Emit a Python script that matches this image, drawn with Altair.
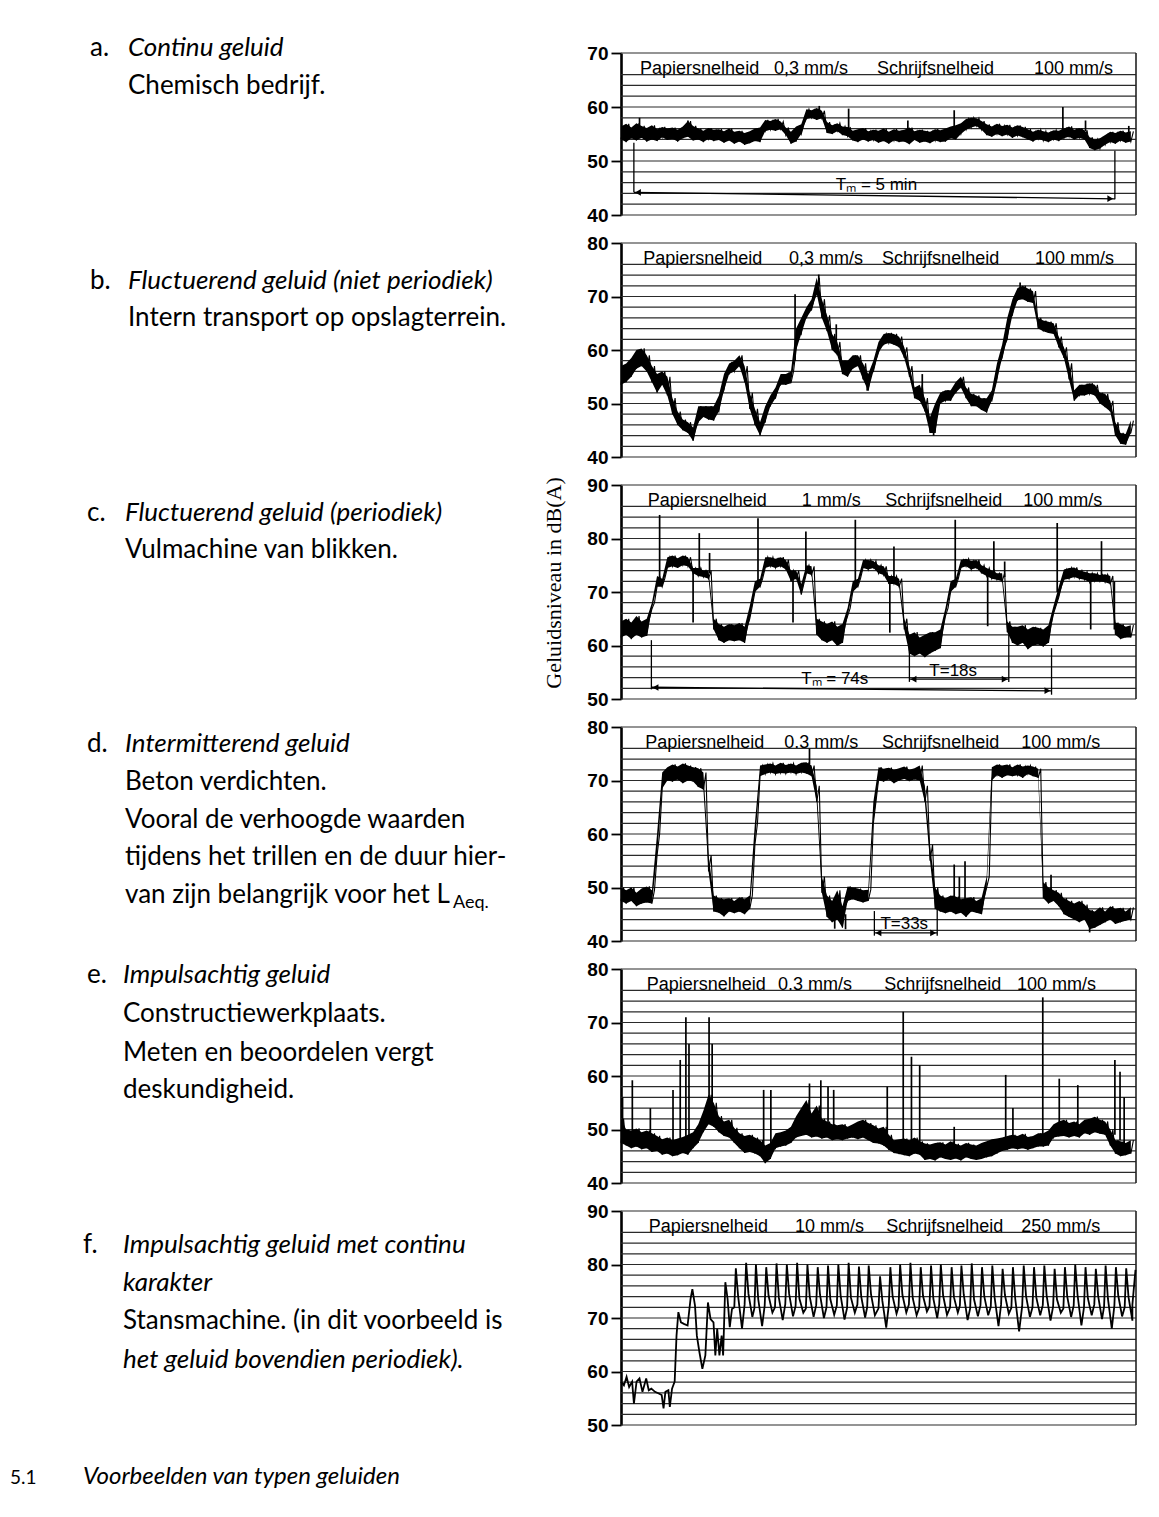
import altair as alt
import pandas as pd

# ---------------- data ----------------
X = list(range(100))

# a. Continu geluid
a_lo = [54.0,53.5,54.2,53.8,54.3,53.6,54.0,53.7,54.4,53.9,
        54.1,53.6,54.2,54.5,53.8,54.0,53.5,54.1,53.7,53.9,
        53.4,53.8,53.2,53.6,53.0,53.3,53.7,53.5,55.5,55.8,
        55.6,55.9,54.8,53.2,53.6,55.0,57.8,58.0,57.6,57.9,
        55.2,55.0,55.5,54.8,54.6,53.8,53.5,54.0,53.6,53.9,
        53.4,53.7,53.2,53.8,53.5,53.6,53.1,53.9,53.4,53.6,
        53.3,53.8,53.5,53.6,54.2,54.0,55.0,55.8,56.2,56.5,
        55.8,54.8,54.5,55.0,54.6,54.9,54.3,54.7,54.4,54.0,
        53.6,54.1,53.8,53.5,54.0,53.7,54.2,54.5,54.0,54.3,
        54.0,52.4,52.0,52.3,53.0,53.5,53.2,53.8,53.4,53.6]
a_hi = [56.4,56.9,56.2,57.0,56.5,56.1,56.6,55.9,56.3,56.0,
        56.2,55.8,56.4,57.4,56.5,56.0,55.6,56.1,55.8,55.9,
        55.5,56.0,55.4,55.6,55.2,55.5,56.0,56.2,57.6,57.4,
        57.8,57.3,56.2,55.4,56.4,56.8,59.6,59.4,59.8,59.3,
        57.2,56.6,57.0,56.4,56.3,55.6,55.9,56.1,55.5,55.8,
        55.6,56.0,55.4,55.9,55.6,55.8,56.2,55.5,55.8,55.6,
        55.4,55.9,55.7,56.0,56.4,56.6,57.0,57.8,58.0,57.9,
        57.4,56.8,56.4,56.9,56.5,56.7,56.2,56.6,56.3,55.9,
        55.4,55.8,55.5,55.3,55.7,55.6,56.0,56.4,55.8,56.1,
        55.7,54.4,54.0,54.2,54.8,55.4,55.2,55.6,55.3,55.5]
a_spk_x = [3.6, 13.0, 38.5, 44.2, 55.7, 64.7, 85.8, 90.2, 98.6]
a_spk_base = [56.0, 56.5, 59.0, 56.0, 55.5, 55.5, 55.5, 55.5, 55.0]
a_spk_peak = [58.0, 57.5, 60.2, 59.7, 57.5, 59.4, 60.0, 57.5, 56.5]

# b. Fluctuerend geluid (niet periodiek)
b_lo = [53.5,54,55,56.5,57,56,54,52,53.5,51.5,
        48,46,45,44.5,43,46.5,47.5,47,46.8,48.5,
        52.5,55.5,56,57,54,49,46,44,46.5,49.5,
        51,53.5,53.5,53.8,60,63,66,67.5,70.5,66,
        63.5,60,59,55.5,55,56.5,57,54.5,52.4,56,
        59.5,61,61.3,61,60.5,58.5,55,51,50.5,48.5,
        44.5,44.5,50,50.5,50.5,52,53,51,49.5,49.5,
        48.8,48.3,50.5,54.5,58.5,62,66.5,69.3,69.5,69,
        68.8,64,63.5,63.2,63,60.5,58.5,54.5,50.5,51.5,
        51.5,51.8,51.5,50,49.3,48.5,44,42.5,42.3,44.5]
b_hi = [57,57.5,58.5,60,60.3,59,57,55.5,56,55,
        51,48.5,47,46.5,45.5,49.5,49.5,49.5,49.5,51.5,
        55.5,57.5,58,59,57,52,49,46.5,49.5,51.5,
        53,55.5,55.5,56,64,66,68,69.5,73.5,69.5,
        66.5,63,61.5,58,58,59,59,57.5,55.5,58,
        61.5,63,63.2,63,62.5,60.5,57,53,53.5,51,
        47.5,50,52,52.5,52.5,54,55,53,51.8,51.5,
        51,51,52.5,57.5,61,66,69.5,71.6,72,71.5,
        71,66,65.5,65.3,65,62.5,60.5,57.5,52.5,53.5,
        53.5,53.8,53.5,52,51.8,50.5,46.5,44.5,44.3,46.8]
b_spk_x = [33.8, 38.4, 41.8, 47.8, 58.5, 60.7, 77.5]
b_spk_base = [58.0, 72.0, 61.0, 54.0, 52.0, 46.0, 70.5]
b_spk_peak = [70.4, 74.1, 64.8, 52.4, 55.5, 44.0, 72.6]

# c. Fluctuerend geluid (periodiek)
c_lo = [61.5,62,61.2,62,61.5,61.8,66.8,71,71,74.5,
        74.8,74.5,75,74.8,73.5,73,72.8,72.5,63,61,
        60.5,61,60.8,61,60.5,65,70,71,74.5,74.8,
        74.5,74.8,74.2,72,72.5,69.5,73.5,73.2,62,61,
        60.5,61,59.9,60.5,65.5,70,71,74.5,74.2,74.5,
        73.5,73.2,71.5,71.5,71,63,58.5,58,58.5,57.8,
        58.5,59,59.5,65.5,70,71,74.5,74.8,74.2,74.5,
        73.5,73,72.5,72.3,72,62.5,60.5,60,60.5,59.3,
        60,60.2,59.8,60.5,66,69,72.3,72.5,72.8,72.5,
        72.3,71.8,72,72,71.8,71.5,62,61.2,61.5,61.5]
c_hi = [64.5,65,64.3,65.5,64.5,65,68,73,72.5,76.5,
        76.8,76.3,76.8,76.5,74.5,74.5,74,74,65,64,
        63.5,64,63.8,64.2,63.5,67.4,72,72.5,76.5,76.5,
        76.2,76.5,76,74,74,71.5,75,74.8,65,64.5,
        64,64.5,63.5,64,67,72,72.5,76,76,75.8,
        75,74.8,73,73,72.5,65,62,62.5,61.5,62,
        62.5,62.5,63,67,72,72.5,76,76.2,75.8,76,
        75,74.5,74,73.5,73.5,64.5,63.5,63.5,63.8,63,
        63.5,63.3,63,63.8,67.5,71,74.2,74.5,74.6,74,
        73.8,73.5,73.5,73.2,73.3,73,64.3,64,63.5,63.8]
c_spk_x = [7.5, 14.0, 15.2, 17.2, 26.6, 33.4, 35.9, 45.5, 52.2, 53.0,
           64.9, 71.2, 72.4, 74.5, 84.7, 91.2, 93.3, 95.8]
c_spk_base = [72.0, 74.0, 74.0, 73.5, 71.5, 73.0, 73.5, 71.5, 72.3, 72.3,
              71.5, 74.0, 73.0, 72.8, 70.0, 73.0, 72.5, 72.0]
c_spk_peak = [84.4, 64.3, 81.0, 77.3, 83.8, 64.3, 81.3, 83.5, 62.4, 78.5,
              83.5, 63.6, 79.5, 75.7, 82.9, 63.0, 79.5, 63.0]

# d. Intermitterend geluid
d_lo = [47.5,47,47.5,46.5,47,47.2,47,56,68.5,70,
        69.8,70.2,69.5,70,69.8,68.8,68.3,53,45.5,45.3,
        44.6,45.5,45.2,45.5,45,46,58,70.8,71.2,71.5,
        71.2,71.4,71.3,71.5,71.2,71.5,71.3,70.8,66,49,
        44.5,43.5,44,42.5,47.5,47.8,47.5,47.2,47.5,62,
        70,69.8,70.2,69.5,70,70.3,69.9,70.2,70,66,
        55,46,45.5,45.2,45.5,45,45.3,44.5,45.5,45.3,
        45,50,70,71,70.5,71,70.8,71,70.5,71.2,
        70.8,70.5,48,47,47.5,46.5,45,44.5,44,43.5,
        44,42.2,42.5,43,43.5,44,43.2,43.5,43.8,44]
d_hi = [50,49.5,50,49,49.8,50.2,49.5,60,71.5,72.5,
        73,72.6,73.2,72.8,72.5,72.3,71.5,56,48.5,48,
        47.8,48,47.5,48.2,47.8,48.5,62,72.8,73,73.2,
        72.8,73.3,72.9,73.2,72.8,73.3,73.4,72.8,69,52,
        48.5,47.5,49.5,46.5,50.2,50,49.8,49.5,49.6,66,
        72.5,72.2,72.4,72,72.3,72.6,72,72.3,72.8,69,
        58,50,48.5,48,48.5,48.3,47.8,48,48.2,47.5,
        48,52,72.5,73,72.8,73,72.5,73,72.6,72.8,
        72.6,72.2,51,50,49.5,49,48,47.5,47,47.5,
        46.8,45.8,45.5,46.3,45.5,46.5,46,46.2,45.5,46.3]
d_spk_x = [36.6, 41.5, 43.6, 64.7, 65.7, 66.8, 83.5, 91.0]
d_spk_base = [73.0, 45.0, 45.0, 47.0, 47.0, 47.0, 49.5, 44.0]
d_spk_peak = [76.0, 42.3, 42.2, 54.3, 52.0, 54.9, 52.4, 41.6]

# e. Impulsachtig geluid
e_lo = [47.5,47,46.5,46.8,46.3,46.5,45.8,46,45.3,45.5,
        45,45.2,45.6,45.3,46.5,47.5,49.5,51,50.5,49.5,
        48.8,48.5,47.5,46.5,45.6,45.8,45.5,45,43.7,44.5,
        46.5,46.8,47,47.5,48.5,48.8,49,48.5,48.7,48.3,
        48.5,48,48.2,48,48.3,48.5,48.2,48.5,48,47.5,
        47.4,47,46.2,45.6,45.4,45.2,45,45.5,45.3,44.3,
        44.5,44.2,44.8,44.5,44.3,44.6,44.2,44.8,44.5,44.3,
        44.5,44.8,45,45.5,46,46.2,46.5,46.3,46.5,46.2,
        46.5,46.8,46.8,47,48.5,48.7,48.8,48.5,48.8,48.5,
        49.3,49,49.5,49.2,49,47,45.5,45,45.2,45.5]
e_hi = [52,50,49.8,50.2,49.5,49.8,49.3,48.8,48.2,48.5,
        48,48.3,48.6,49,49.5,51,53.5,56.5,55,52.5,
        51.5,51.8,50.3,49.3,48.8,49,48.5,48,47,47.5,
        49.3,49.5,49.8,50.5,52.5,54,55.5,53,54.5,52,
        51.5,51,50.8,51,50.5,51,51.5,51.8,51.2,50.8,
        50.2,50.5,49,48,48.2,48.3,48,48.5,47.8,47.4,
        47.2,47.5,47.6,47.2,47.8,47.3,47,47.5,47.2,47,
        47.5,47.8,48.2,48.3,48.5,48.8,49,48.8,49.2,48.6,
        48.8,49.3,49.3,49.8,51,51.5,51.8,51.2,51.5,51,
        51.8,52,52.4,51.8,51.5,50,48,47.8,47.5,48]
e_spk_x = [0.3, 2.2, 5.7, 10.1, 11.5, 12.6, 13.2, 17.1, 17.7, 27.7,
           29.1, 36.6, 38.8, 40.2, 41.3, 51.7, 54.8, 56.4, 58.0, 64.7,
           74.7, 76.1, 81.9, 85.1, 88.7, 95.9, 96.9, 97.7]
e_spk_base = [49, 49, 48, 47, 47, 47, 47, 54, 54, 46,
              46, 52, 51, 50, 50, 49, 47, 47, 46, 46,
              47, 47, 48, 50, 50, 49, 48, 47]
e_spk_peak = [56, 59.2, 54, 57.4, 63, 71, 66, 71, 66, 57.4,
              57.4, 58.6, 59.2, 58, 57.4, 58, 72, 63.6, 62, 50.5,
              60.2, 54, 74.7, 59.5, 58.3, 63, 60.8, 56]

# f. Impulsachtig geluid met continu karakter
f_head_x = [0, 0.57, 1.08, 1.58, 2.16, 2.51, 3.02, 3.59, 4.17, 4.89,
            5.39, 5.89, 6.61, 7.33, 7.9, 8.26, 8.62, 9.2, 9.48, 9.91,
            10.42, 10.78, 11.14, 11.64, 12.21, 12.93, 13.51, 13.86, 14.37, 14.73,
            15.23, 15.8, 16.38, 16.88, 17.39, 17.96, 18.32, 18.68, 19.11, 19.54,
            19.83, 20.26, 20.69, 21.12, 21.55]
f_head_y = [58.1, 57.4, 59.0, 57.1, 58.1, 54.0, 58.1, 58.7, 56.2, 58.7,
            56.5, 56.8, 56.2, 55.9, 55.6, 53.1, 56.2, 56.5, 53.4, 56.8,
            58.1, 66.7, 71.1, 69.2, 68.9, 68.6, 73.6, 75.4, 72.3, 66.7,
            63.6, 60.5, 63.0, 72.9, 69.8, 69.2, 63.0, 68.0, 63.0, 66.7,
            63.0, 76.7, 73.6, 68.3, 71.7]
f_peak_x = [22.3, 24.3, 26.2, 28.2, 30.2, 32.2, 34.2, 36.2, 38.2, 40.2,
            42.2, 44.2, 46.2, 48.1, 50.3, 52.3, 54.2, 56.2, 58.2, 60.2,
            62.1, 64.2, 66.1, 68.1, 70.1, 72.1, 74.1, 76.1, 78.2, 80.2,
            82.2, 84.2, 86.2, 88.2, 90.2, 92.2, 94.1, 96.1, 98.1]
f_pre = [72, 72.5, 71.8, 72.3, 72, 72.6, 72.2, 71.8, 72.4, 72,
         72.3, 71.9, 72.5, 72, 71.8, 72.4, 72.1, 72.5, 71.9, 72.2,
         72.6, 72, 72.3, 71.8, 72.4, 72.1, 72.5, 71.9, 72.2, 72,
         72.4, 72.1, 71.8, 72.3, 72, 72.5, 72.1, 72.3, 72]
f_peak = [79.3, 80.3, 80, 79.5, 80.2, 80, 80.3, 80, 79.5, 79.8,
          80, 80.3, 79.6, 79.8, 77.8, 79.5, 80, 80.3, 79.5, 79.8,
          80, 79.5, 79.8, 80.2, 79.5, 79.8, 79.2, 79.5, 79.8, 79.5,
          79.8, 79.2, 79.5, 80, 79.5, 79.2, 79.8, 79.5, 79.3]
f_shoulder = [74, 74.5, 73.5, 74.2, 73.8, 74.5, 73.6, 74, 74.3, 73.5,
              74.2, 73.8, 74, 74.4, 73.2, 74, 74.3, 73.7, 74.1, 73.6,
              74.2, 73.9, 74.4, 73.5, 74, 73.8, 74.3, 73.6, 74.1, 73.8,
              74.2, 73.5, 74, 74.3, 73.7, 74.1, 73.6, 74.2, 73.9]
f_trough = [68, 70.2, 68.5, 71, 69.6, 70.3, 71, 70.2, 70, 70.6,
            69.7, 71, 70.1, 70.5, 68.2, 70.8, 71, 70.5, 71.2, 70,
            70.6, 71, 69.6, 70.3, 70.5, 68.5, 70.8, 67.5, 70.2, 70.5,
            69.5, 71, 70.2, 68.6, 70.5, 69.8, 68, 70.3, 69.5]
f_tail_x = [99.3, 99.9]
f_tail_y = [72.5, 79.0]

# header texts
paper_speed = ["0,3 mm/s", "0,3 mm/s", "1 mm/s", "0.3 mm/s", "0.3 mm/s", "10 mm/s"]
write_speed = ["100 mm/s", "100 mm/s", "100 mm/s", "100 mm/s", "100 mm/s", "250 mm/s"]

letters = ["a.", "b.", "c.", "d.", "e.", "f."]
desc = [
    [("Continu geluid", "italic"), ("Chemisch bedrijf.", "normal")],
    [("Fluctuerend geluid (niet periodiek)", "italic"), ("Intern transport op opslagterrein.", "normal")],
    [("Fluctuerend geluid (periodiek)", "italic"), ("Vulmachine van blikken.", "normal")],
    [("Intermitterend geluid", "italic"), ("Beton verdichten.", "normal"),
     ("Vooral de verhoogde waarden", "normal"), ("tijdens het trillen en de duur hier-", "normal"),
     ("van zijn belangrijk voor het L", "normal")],
    [("Impulsachtig geluid", "italic"), ("Constructiewerkplaats.", "normal"),
     ("Meten en beoordelen vergt", "normal"), ("deskundigheid.", "normal")],
    [("Impulsachtig geluid met continu", "italic"), ("karakter", "italic"),
     ("Stansmachine. (in dit voorbeeld is", "normal"), ("het geluid bovendien periodiek).", "italic")],
]
caption_num = "5.1"
caption_text = "Voorbeelden van typen geluiden"
y_title = "Geluidsniveau in dB(A)"

# ---------------- layout (page pixels) ----------------
PLOT_LEFT = 618
W = 515
HEIGHTS = [162, 214, 214, 214, 214, 214]
GAP = 28
TOPS = []
_t = 52
for _h in HEIGHTS:
    TOPS.append(_t)
    _t += _h + GAP
RANGES = [(40, 70), (40, 80), (50, 90), (40, 80), (40, 80), (50, 90)]

letter_x = [87, 87, 84, 84, 84, 80]
text_x = [125, 125, 122, 122, 120, 120]
line_y = [[55, 93], [288, 325], [520, 557], [751, 789, 827, 864, 902],
          [982, 1021, 1060, 1097], [1252, 1290, 1328, 1367]]
hdr_x = [[3.7, 29.7, 49.7, 80.2], [4.3, 32.6, 50.7, 80.4], [5.2, 35.1, 51.3, 78.1],
         [4.7, 31.7, 50.7, 77.7], [5.0, 30.5, 51.1, 76.9], [5.4, 33.8, 51.5, 77.7]]

LFONT = "Lato"
LSIZE = 26
HFONT = "Liberation Sans"
GRID_COLOR = "#2a2a2a"


def xs():
    return alt.Scale(domain=[0, 100], nice=False, zero=False)


def ys(i):
    lo, hi = RANGES[i]
    return alt.Scale(domain=[lo, hi], nice=False, zero=False)


def yax(i):
    ymin, ymax = RANGES[i]
    return alt.Axis(
        values=list(range(ymin, ymax + 1, 10)), title=None, grid=False,
        domain=True, domainColor="black", domainWidth=2.6,
        ticks=True, tickColor="black", tickWidth=1.8, tickSize=10,
        labelFont=HFONT, labelFontSize=19, labelFontWeight="bold",
        labelColor="black", labelPadding=3)


def pix_text(rows, **kw):
    df = pd.DataFrame(rows, columns=["px", "py", "txt"])
    params = dict(align="left", baseline="alphabetic", color="black")
    params.update(kw)
    return alt.Chart(df).mark_text(**params).encode(
        x=alt.X("px:Q", scale=None, axis=None),
        y=alt.Y("py:Q", scale=None, axis=None),
        text="txt:N",
    )


def panel(i, trace_layers, spikes, ann_lines=None, ann_arrows=None, ann_texts=None):
    ymin, ymax = RANGES[i]
    top = TOPS[i]
    AX = yax(i)
    levels = list(range(ymin, ymax - 3, 2)) + [ymax]
    grid = alt.Chart(pd.DataFrame({"lev": levels})).mark_rule(
        color=GRID_COLOR, strokeWidth=1.2
    ).encode(y=alt.Y("lev:Q", scale=ys(i), axis=AX))
    right = alt.Chart(pd.DataFrame({"v": [100]})).mark_rule(
        color="#222", strokeWidth=1.6
    ).encode(x=alt.X("v:Q", scale=xs(), axis=None))

    layers = [grid, right] + trace_layers

    sx, sb, sp = spikes
    if sx:
        sdf = pd.DataFrame({"x": sx, "b": sb, "p": sp})
        layers.append(alt.Chart(sdf).mark_rule(color="black", strokeWidth=1.7).encode(
            x=alt.X("x:Q", scale=xs(), axis=None),
            y=alt.Y("b:Q", scale=ys(i), axis=AX), y2="p:Q"))

    hdf = pd.DataFrame({
        "x": hdr_x[i],
        "y": [ymax - 3.9] * 4,
        "t": ["Papiersnelheid", paper_speed[i], "Schrijfsnelheid", write_speed[i]],
    })
    layers.append(alt.Chart(hdf).mark_text(
        align="left", baseline="alphabetic", font=HFONT, fontSize=18, color="black"
    ).encode(x=alt.X("x:Q", scale=xs(), axis=None),
             y=alt.Y("y:Q", scale=ys(i), axis=AX), text="t:N"))

    if ann_lines:
        ldf = pd.DataFrame(ann_lines, columns=["x", "y", "x2", "y2"])
        layers.append(alt.Chart(ldf).mark_rule(color="black", strokeWidth=1.3).encode(
            x=alt.X("x:Q", scale=xs(), axis=None), x2="x2:Q",
            y=alt.Y("y:Q", scale=ys(i), axis=AX), y2="y2:Q"))
    if ann_arrows:
        for shape, pts in ann_arrows.items():
            adf = pd.DataFrame(pts, columns=["x", "y"])
            layers.append(alt.Chart(adf).mark_point(
                shape=shape, filled=True, color="black", size=45, opacity=1
            ).encode(x=alt.X("x:Q", scale=xs(), axis=None),
                     y=alt.Y("y:Q", scale=ys(i), axis=AX)))
    if ann_texts:
        tdf = pd.DataFrame(ann_texts, columns=["x", "y", "t"])
        layers.append(alt.Chart(tdf).mark_text(
            align="center", baseline="alphabetic", font=HFONT, fontSize=17, color="black"
        ).encode(x=alt.X("x:Q", scale=xs(), axis=None),
                 y=alt.Y("y:Q", scale=ys(i), axis=AX), text="t:N"))

    rows_n, rows_i = [], []
    rows_n.append((letter_x[i] - PLOT_LEFT, line_y[i][0] - top, letters[i]))
    for (txt, st), yy in zip(desc[i], line_y[i]):
        row = (text_x[i] - PLOT_LEFT, yy - top, txt)
        (rows_i if st == "italic" else rows_n).append(row)
    if rows_n:
        layers.append(pix_text(rows_n, font=LFONT, fontSize=LSIZE))
    if rows_i:
        layers.append(pix_text(rows_i, font=LFONT, fontSize=LSIZE, fontStyle="italic"))

    if i == 0:
        anchor = pd.DataFrame({"v": [0]})
        layers.append(alt.Chart(anchor).mark_rule(color="white", strokeWidth=0.5).encode(
            x=alt.value(-612), x2=alt.value(-611), y=alt.value(-44), y2=alt.value(-44)))
    if i == 2:
        layers.append(pix_text([(551 - PLOT_LEFT, 582 - top, y_title)],
                               font="Liberation Serif", fontSize=22, angle=270,
                               align="center", baseline="middle"))
    if i == 3:
        layers.append(pix_text([(450 - PLOT_LEFT, 907 - top, "Aeq.")],
                               font=LFONT, fontSize=18))
    if i == 5:
        layers.append(pix_text([(7 - PLOT_LEFT, 1483 - top, caption_num)],
                               font=LFONT, fontSize=19))
        layers.append(pix_text([(80 - PLOT_LEFT, 1483 - top, caption_text)],
                               font=LFONT, fontSize=24, fontStyle="italic"))

    return alt.layer(*layers).properties(width=W, height=HEIGHTS[i])


def band(i, lo, hi):
    df = pd.DataFrame({"x": X, "lo": lo, "hi": hi})
    # zig-zag pen stroke between the read lower and upper envelope
    zx, zy = [], []
    for k in range(len(X)):
        zx += [X[k], X[k] + 0.5]
        zy += [lo[k], hi[k]]
    zdf = pd.DataFrame({"x": zx, "y": zy, "o": list(range(len(zx)))})
    area = alt.Chart(df).mark_area(
        color="black", opacity=1, interpolate="linear"
    ).encode(x=alt.X("x:Q", scale=xs(), axis=None),
             y=alt.Y("lo:Q", scale=ys(i), axis=yax(i)), y2="hi:Q")
    zig = alt.Chart(zdf).mark_line(color="black", strokeWidth=1.1).encode(
        x=alt.X("x:Q", scale=xs(), axis=None),
        y=alt.Y("y:Q", scale=ys(i), axis=yax(i)), order="o:Q")
    return [area, zig]


f_x, f_y = list(f_head_x), list(f_head_y)
for k in range(len(f_peak_x)):
    f_x += [f_peak_x[k] - 0.3, f_peak_x[k], f_peak_x[k] + 0.45, f_peak_x[k] + 1.2]
    f_y += [f_pre[k], f_peak[k], f_shoulder[k], f_trough[k]]
f_x += f_tail_x
f_y += f_tail_y
f_df = pd.DataFrame({"x": f_x, "y": f_y, "o": list(range(len(f_x)))})
f_line = [alt.Chart(f_df).mark_line(color="black", strokeWidth=1.8, interpolate="linear").encode(
    x=alt.X("x:Q", scale=xs(), axis=None),
    y=alt.Y("y:Q", scale=ys(5), axis=yax(5)), order="o:Q")]

pa = panel(0, band(0, a_lo, a_hi), (a_spk_x, a_spk_base, a_spk_peak),
           ann_lines=[(2.5, 53.4, 2.5, 44.2), (95.9, 51.9, 95.9, 42.9), (2.5, 44.2, 95.9, 43.0)],
           ann_arrows={"triangle-left": [(3.3, 44.18)], "triangle-right": [(95.0, 43.02)]},
           ann_texts=[(49.6, 44.6, "Tₘ = 5 min")])
pb = panel(1, band(1, b_lo, b_hi), (b_spk_x, b_spk_base, b_spk_peak))
pc = panel(2, band(2, c_lo, c_hi), (c_spk_x, c_spk_base, c_spk_peak),
           ann_lines=[(5.9, 61.0, 5.9, 51.8), (83.6, 59.5, 83.6, 50.8), (5.9, 52.2, 83.6, 51.5),
                      (56.0, 59.5, 56.0, 53.2), (75.3, 62.0, 75.3, 53.2), (56.0, 53.7, 75.3, 53.7)],
           ann_arrows={"triangle-left": [(6.7, 52.15), (56.8, 53.7)],
                       "triangle-right": [(82.8, 51.55), (74.5, 53.7)]},
           ann_texts=[(41.5, 52.8, "Tₘ = 74s"), (64.5, 54.3, "T=18s")])
pd_ = panel(3, band(3, d_lo, d_hi), (d_spk_x, d_spk_base, d_spk_peak),
            ann_lines=[(49.2, 45.6, 49.2, 41.0), (61.4, 48.0, 61.4, 41.0), (49.2, 41.5, 61.4, 41.5)],
            ann_arrows={"triangle-left": [(50.0, 41.5)], "triangle-right": [(60.6, 41.5)]},
            ann_texts=[(55.0, 42.2, "T=33s")])
pe = panel(4, band(4, e_lo, e_hi), (e_spk_x, e_spk_base, e_spk_peak))
pf = panel(5, f_line, ([], [], []))

chart = alt.vconcat(pa, pb, pc, pd_, pe, pf, spacing=GAP, bounds="flush").properties(
    padding={"left": 0, "top": 0, "right": 5, "bottom": 5},
    background="white",
).configure_view(stroke=None)

chart.save("out.html", embed_options={"renderer": "svg", "actions": False})
